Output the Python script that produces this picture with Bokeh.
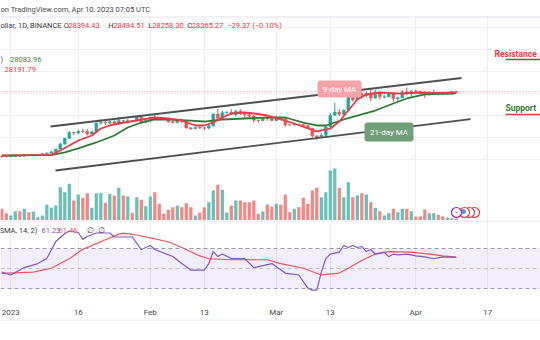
import pandas as pd
from bokeh.plotting import figure
from bokeh.layouts import column
from bokeh.models import (ColumnDataSource, Range1d, FixedTicker, Grid, Span, Label,
                          BoxAnnotation, PolyAnnotation)
from bokeh.embed import file_html
from bokeh.resources import INLINE

FONT = "Roboto"
UP, DOWN = "#26a69a", "#ef5350"
VUP, VDOWN = "#67c1b8", "#f48784"

# ---------------- data ----------------
start_date, end_date = "2022-12-29", "2023-04-10"
opens = [16547, 16633, 16607,
         16542, 16617, 16673, 16669, 16850, 16831, 16951, 16955, 17091, 17196, 17446, 17935, 18869, 19909, 20977,
         20880, 21169, 21161, 20688, 21086, 22670, 22784, 22707, 22920, 22636, 23117, 23032, 23078, 23031, 23774, 22840,
         23125, 23732, 23488, 23431, 23326, 22932, 22762, 23240, 22963, 21796, 21625, 21862, 21783, 21773, 22199, 24324,
         23538, 24566, 24631, 24271, 24836, 24439, 24188, 23947, 23199, 23157, 23554, 23492,
         23141, 23628, 23465, 22354, 22346, 22430, 22410, 22197, 21705, 20362, 20150, 20455, 21997, 24113, 24670, 24285,
         24998, 27395, 26907, 27972, 27717, 28105, 27250, 28295, 27454, 27462, 27968, 27124, 27262, 28348, 28028,
         28465, 28452, 28171, 27800, 28168, 28175, 28033, 27907, 27948, 28394.43]
highs = [16664, 16677, 16644,
         16628, 16799, 16778, 17092, 16879, 17041, 16999, 17176, 17398, 17499, 18000, 19108, 19964, 21258, 21050,
         21439, 21650, 21564, 21190, 22755, 23370, 23078, 23166, 23150, 23816, 23282, 23500, 23165, 23950, 23813, 23320,
         23812, 24255, 23715, 23587, 23433, 23162, 23350, 23453, 23011, 21938, 21906, 22090, 21890, 22319, 24380, 25250,
         24876, 24800, 25192, 25121, 25250, 24477, 24600, 24133, 23219, 23689, 23880, 23600,
         24000, 23780, 23476, 22410, 22662, 22603, 22553, 22267, 21834, 20367, 20850, 22200, 24500, 26386, 25196, 25167,
         27757, 27724, 28390, 28472, 28439, 28868, 28754, 28369, 27787, 28194, 28044, 27500, 28650, 29159, 28658,
         28800, 28530, 28494, 28444, 28775, 28190, 28100, 28179, 28530, 28494.51]
lows = [16488, 16333, 16470,
        16500, 16548, 16606, 16657, 16753, 16679, 16908, 16911, 17091, 17162, 17314, 17910, 18720, 19889, 20551,
        20611, 20922, 20407, 20660, 20861, 22422, 22293, 22500, 22460, 22291, 22850, 22534, 22880, 22974, 22500, 22715,
        22760, 23363, 23206, 23253, 22745, 22628, 22745, 22654, 21688, 21451, 21599, 21630, 21351, 21532, 22047, 23506,
        23339, 24450, 24192, 23841, 24148, 23574, 23608, 22760, 22722, 22950, 23106, 23020,
        23020, 23195, 21971, 22157, 22212, 22260, 21927, 21580, 20042, 19549, 19984, 20280, 21813, 23976, 23896, 24123,
        24890, 26578, 26827, 27124, 27350, 26601, 27105, 27000, 27156, 27371, 26508, 26631, 27226, 27720, 27522,
        28220, 27856, 27200, 27661, 27805, 27711, 27766, 27870, 27820, 28258.30]
closes = [16633, 16607, 16542,
          16617, 16673, 16669, 16850, 16831, 16951, 16955, 17091, 17196, 17446, 17935, 18869, 19909, 20977, 20880,
          21169, 21161, 20688, 21086, 22670, 22784, 22707, 22920, 22636, 23117, 23032, 23078, 23031, 23774, 22840, 23125,
          23732, 23488, 23431, 23326, 22932, 22762, 23240, 22963, 21796, 21625, 21862, 21783, 21773, 22199, 24324, 23538,
          24566, 24631, 24271, 24836, 24439, 24188, 23947, 23199, 23157, 23554, 23492, 23141,
          23628, 23465, 22354, 22346, 22430, 22410, 22197, 21705, 20362, 20150, 20455, 21997, 24113, 24670, 24285, 24998,
          27395, 26907, 27972, 27717, 28105, 27250, 28295, 27454, 27462, 27968, 27124, 27262, 28348, 28028, 28465,
          28452, 28171, 27800, 28168, 28175, 28033, 27907, 27948, 28394.43, 28365.27]
volumes_k = [100, 117, 73,
             50, 93, 93, 117, 83, 90, 33, 50, 157, 127, 150, 333, 283, 367, 200,
             260, 227, 273, 127, 273, 273, 177, 267, 250, 327, 250, 240, 77, 233, 207, 143,
             240, 283, 167, 67, 107, 133, 150, 133, 173, 133, 50, 77, 133, 183, 300, 357,
             307, 80, 150, 200, 200, 183, 183, 200, 67, 90, 160, 140,
             167, 157, 260, 83, 117, 133, 227, 167, 300, 327, 233, 283, 500, 520, 327, 233,
             383, 233, 250, 273, 260, 183, 127, 93, 50, 73, 117, 83, 117, 117, 93,
             40, 40, 110, 73, 73, 57, 40, 30, 23, 20]

ma9_dates = ["2022-12-30", "2023-01-10", "2023-01-12", "2023-01-14", "2023-01-16", "2023-01-19", "2023-01-21",
             "2023-01-23", "2023-01-25", "2023-01-29", "2023-02-02", "2023-02-05", "2023-02-08", "2023-02-11",
             "2023-02-13", "2023-02-15", "2023-02-17", "2023-02-19", "2023-02-22", "2023-02-24", "2023-02-27",
             "2023-03-02", "2023-03-05", "2023-03-08", "2023-03-10", "2023-03-13", "2023-03-15", "2023-03-17",
             "2023-03-19", "2023-03-21", "2023-03-24", "2023-03-29", "2023-04-01", "2023-04-05", "2023-04-10"]
ma9_values = [16750, 16900, 17690, 18600, 19510, 20420, 21690, 22240, 22600, 23150, 23690, 23510, 23150, 22240,
              22240, 22780, 23690, 24420, 24600, 24420, 24055, 23330, 22600, 21690, 21150, 21690, 22960, 24960,
              26960, 27870, 28200, 28050, 28200, 28150, 28191.79]
ma21_dates = ["2022-12-30", "2023-01-10", "2023-01-13", "2023-01-16", "2023-01-20", "2023-01-24", "2023-01-27",
              "2023-01-30", "2023-02-02", "2023-02-05", "2023-02-09", "2023-02-13", "2023-02-17", "2023-02-22",
              "2023-02-27", "2023-03-03", "2023-03-07", "2023-03-10", "2023-03-12", "2023-03-16", "2023-03-20",
              "2023-03-23", "2023-03-27", "2023-03-30", "2023-04-03", "2023-04-06", "2023-04-10"]
ma21_values = [16800, 16850, 17330, 18060, 19150, 20420, 21870, 22780, 23330, 23330, 23150, 22960, 23330, 23510,
               23690, 23690, 22780, 22240, 22240, 23330, 24240, 24960, 26240, 27150, 27900, 28000, 28083.96]

rsi_dates = ["2022-12-30", "2023-01-01", "2023-01-04", "2023-01-07", "2023-01-09", "2023-01-11", "2023-01-13",
             "2023-01-14", "2023-01-16", "2023-01-17", "2023-01-18", "2023-01-20", "2023-01-23", "2023-01-24",
             "2023-01-27", "2023-01-28", "2023-01-30", "2023-02-01", "2023-02-02", "2023-02-06", "2023-02-08",
             "2023-02-10", "2023-02-13", "2023-02-14", "2023-02-15", "2023-02-16", "2023-02-17", "2023-02-19",
             "2023-02-22", "2023-02-24", "2023-02-26", "2023-02-28", "2023-03-03", "2023-03-06", "2023-03-08",
             "2023-03-09", "2023-03-10", "2023-03-11", "2023-03-12", "2023-03-13", "2023-03-15", "2023-03-16",
             "2023-03-17", "2023-03-18", "2023-03-19", "2023-03-20", "2023-03-21", "2023-03-22", "2023-03-23",
             "2023-03-25", "2023-03-26", "2023-03-27", "2023-03-28", "2023-03-30", "2023-04-01", "2023-04-03",
             "2023-04-05", "2023-04-07", "2023-04-10"]
rsi_values = [46.5, 43.6, 51, 55, 60, 77, 85, 87.5, 86, 79, 82, 85.5, 85.5, 81.5, 81.5, 81.5, 69, 73, 69, 62,
              55, 48.5, 48.5, 55, 67, 62, 64.5, 60, 60, 51, 53, 55, 45.5, 43.6, 30.5, 28.5, 28.5, 46.5, 60, 64.5,
              66.5, 73, 71, 73, 71, 72, 67, 69, 64.5, 66.5, 61.7, 64.5, 63.6, 64.5, 62.6, 61.7, 59.8, 61.7, 61.23]
rsima_dates = ["2022-12-30", "2023-01-06", "2023-01-10", "2023-01-14", "2023-01-17", "2023-01-21", "2023-01-25",
               "2023-01-26", "2023-01-29", "2023-02-01", "2023-02-05", "2023-02-08", "2023-02-12", "2023-02-14",
               "2023-02-19", "2023-02-24", "2023-02-27", "2023-03-02", "2023-03-07", "2023-03-11", "2023-03-15",
               "2023-03-17", "2023-03-20", "2023-03-23", "2023-03-26", "2023-03-31", "2023-04-04", "2023-04-07",
               "2023-04-10"]
rsima_values = [45.1, 46.5, 50.3, 59.8, 69.2, 76.8, 84.4, 85.4, 83.5, 80.6, 76.8, 71.1, 62.6, 59.8, 58.8, 58.8,
                58.8, 55.0, 50.3, 43.6, 45.5, 50.3, 58.0, 64.5, 66.9, 66.4, 64.5, 62.6, 61.46]

tick_dates = ["2023-01-01", "2023-01-16", "2023-02-01", "2023-02-13", "2023-03-01", "2023-03-13", "2023-04-01",
              "2023-04-17"]
tick_labels = ["2023", "16", "Feb", "13", "Mar", "13", "Apr", "17"]
price_grid = [16000, 20000, 24000, 28000, 32000, 36000, 40000]

channel_upper_dates = ["2023-01-09 19:40", "2023-04-11 04:00"]
channel_upper_prices = [22055, 30873]
channel_lower_dates = ["2023-01-10 22:20", "2023-04-13 04:00"]
channel_lower_prices = [14055, 23382]
last_price = 28365.27

# ---------------- helpers ----------------
ORIGIN = pd.Timestamp("2023-01-01")


def dnum(ds):
    return [(pd.Timestamp(d) - ORIGIN) / pd.Timedelta(days=1) for d in ds]


dates = pd.date_range(start_date, end_date, freq="D")
xs = dnum(dates)
inc = [c >= o for o, c in zip(opens, closes)]
src = ColumnDataSource(dict(
    x=xs, open=opens, high=highs, low=lows, close=closes,
    top=[max(o, c) for o, c in zip(opens, closes)],
    bottom=[min(o, c) for o, c in zip(opens, closes)],
    color=[UP if i else DOWN for i in inc],
    vcolor=[VUP if i else VDOWN for i in inc],
    vol=volumes_k,
))

tick_x = [int(round(v)) for v in dnum(tick_dates)]
overrides = {}
for t, l in zip(tick_x, tick_labels):
    overrides[t] = l
    overrides[str(t)] = l

xr = Range1d(-2.289, 117.71)
GRID = "#eef0f4"
SEP = "#e0e3eb"


def lab(p, x, y, text, color="#3c3c3c", size="7.5px", **kw):
    p.add_layout(Label(x=x, y=y, text=text, x_range_name="px", y_range_name="py", text_color=color,
                       text_font=FONT, text_font_size=size, text_baseline="middle", **kw))


# ---------------- main price pane (includes header strip) ----------------
main = figure(width=540, height=220, x_range=xr, y_range=Range1d(4963.6, 44963.6), title=None,
              x_axis_location=None, y_axis_location=None, toolbar_location=None,
              output_backend="svg", min_border=0, outline_line_color=None)
main.grid.visible = False
main.extra_y_ranges = {"vol": Range1d(0, 2200), "py": Range1d(220, 0)}
main.extra_x_ranges = {"px": Range1d(0, 540)}
main.add_layout(Grid(dimension=0, ticker=FixedTicker(ticks=tick_x), grid_line_color=GRID))
main.add_layout(Grid(dimension=1, ticker=FixedTicker(ticks=price_grid), grid_line_color=GRID))

main.vbar(x="x", width=0.72, top="vol", bottom=0, fill_color="vcolor", line_color=None,
          y_range_name="vol", source=src)
main.segment(x0="x", y0="low", x1="x", y1="high", line_color="color", line_width=1, source=src)
main.vbar(x="x", width=0.62, top="top", bottom="bottom", fill_color="color", line_color="color",
          line_width=0.6, source=src)

main.line(dnum(ma21_dates), ma21_values, line_color="#2e7d32", line_width=1.8)
main.line(dnum(ma9_dates), ma9_values, line_color="#f23645", line_width=1.8)
main.line(dnum(channel_upper_dates), channel_upper_prices, line_color="#4f4f4f", line_width=1.8)
main.line(dnum(channel_lower_dates), channel_lower_prices, line_color="#4f4f4f", line_width=1.8)
main.add_layout(Span(location=last_price, dimension="width", line_color="#f23645", line_alpha=0.6,
                     line_dash="1 2", line_width=1))

# header strip (white, above the chart area) and its separator
main.add_layout(BoxAnnotation(left=-5, right=545, top=-2, bottom=16, x_range_name="px", y_range_name="py",
                              fill_color="white", fill_alpha=1, line_color=None))
main.add_layout(Span(location=16.5, dimension="width", y_range_name="py", line_color=SEP, line_width=1))
lab(main, 0, 8.5, "on TradingView.com, Apr 10, 2023 07:05 UTC", color="#4a4a4a")

# legend rows
lab(main, 0, 25, "ollar, 1D, BINANCE")
row2 = [(63.3, "O", "#3c3c3c"), (67.7, "28394.43", "#f23645"), (107.7, "H", "#3c3c3c"),
        (112.7, "28494.51", "#f23645"), (147.7, "L", "#3c3c3c"), (151.7, "28258.30", "#f23645"),
        (186.7, "C", "#3c3c3c"), (191.3, "28365.27", "#f23645"), (226.7, "\u221229.37 (\u22120.10%)", "#f23645")]
for x, t, c in row2:
    lab(main, x, 25, t, color=c)
lab(main, 0, 59, ")")
lab(main, 9.5, 59, "28083.96", color="#388e3c")
lab(main, 4, 69, "28191.79", color="#f23645")

# MA call-outs
main.add_layout(PolyAnnotation(xs=[333, 344, 352], ys=[96, 96, 108], x_range_name="px", y_range_name="py",
                               fill_color="#f7a3aa", fill_alpha=1, line_color=None))
main.add_layout(BoxAnnotation(left=317, right=361, top=80, bottom=97, x_range_name="px", y_range_name="py",
                              fill_color="#f7a3aa", fill_alpha=1, line_color=None, border_radius=3))
lab(main, 339, 88.8, "9-day MA", color="white", size="8px", text_align="center")
main.add_layout(PolyAnnotation(xs=[372, 379, 391], ys=[110, 123, 123], x_range_name="px", y_range_name="py",
                               fill_color="#729e78", fill_alpha=1, line_color=None))
main.add_layout(BoxAnnotation(left=364, right=413, top=122, bottom=141, x_range_name="px", y_range_name="py",
                              fill_color="#729e78", fill_alpha=1, line_color=None, border_radius=3))
lab(main, 388.5, 131.8, "21-day MA", color="white", size="8px", text_align="center")

# support / resistance notes
lab(main, 494, 53.5, "Resistance", color="#f23645", size="8.5px", text_font_style="bold")
main.add_layout(BoxAnnotation(left=505, right=541, top=58.3, bottom=59.8, x_range_name="px", y_range_name="py",
                              fill_color="#2e7d32", fill_alpha=1, line_color=None))
lab(main, 505, 107, "Support", color="#2e7d32", size="8.5px", text_font_style="bold")
main.add_layout(BoxAnnotation(left=505, right=541, top=113.3, bottom=114.8, x_range_name="px", y_range_name="py",
                              fill_color="#f23645", fill_alpha=1, line_color=None))

# event icons
main.scatter(x=[474, 469, 464], y=[212, 212, 212], size=10, marker="circle", fill_color="white",
             line_color="#f23645", line_width=1.2, x_range_name="px", y_range_name="py")
main.scatter(x=[463], y=[211], size=5, marker="circle", fill_color="#5b9bd5", line_color=None,
             x_range_name="px", y_range_name="py")
main.scatter(x=[456], y=[212], size=10, marker="circle", fill_color="white",
             line_color="#9c27b0", line_width=1.2, x_range_name="px", y_range_name="py")
lab(main, 456, 212.5, "\u03df", color="#9c27b0", size="7px", text_align="center")

# ---------------- RSI pane ----------------
rsi = figure(width=540, height=99, x_range=xr, y_range=Range1d(22.1, 98.0), title=None,
             x_axis_location="below", y_axis_location=None, toolbar_location=None,
             output_backend="svg", min_border=0, min_border_bottom=19, outline_line_color=None)
rsi.grid.visible = False
rsi.extra_x_ranges = {"px": Range1d(0, 540)}
rsi.extra_y_ranges = {"py": Range1d(300, 220)}
rsi.add_layout(Grid(dimension=0, ticker=FixedTicker(ticks=tick_x), grid_line_color=GRID))
rsi.add_layout(BoxAnnotation(bottom=30, top=70, fill_color="#7e57c2", fill_alpha=0.1, line_color=None,
                             level="underlay"))
rsi.add_layout(Span(location=70, dimension="width", line_color="#9598a1", line_dash="4 3", line_width=1))
rsi.add_layout(Span(location=50, dimension="width", line_color="#9598a1", line_alpha=0.5, line_dash="4 3",
                    line_width=1))
rsi.add_layout(Span(location=30, dimension="width", line_color="#9598a1", line_dash="4 3", line_width=1))
rsi.add_layout(Span(location=220.5, dimension="width", y_range_name="py", line_color=SEP, line_width=1))
rsi.line(dnum(rsima_dates), rsima_values, line_color="#f7525f", line_width=1.2)
rsi.line(dnum(rsi_dates), rsi_values, line_color="#7e57c2", line_width=1.2)

lab(rsi, -1, 231, "SMA, 14, 2)")
lab(rsi, 41, 231, "61.23", color="#7e57c2")
lab(rsi, 58, 231, "61.46", color="#f7525f")
lab(rsi, 86, 231, "\u2205", color="#3c3c3c")
lab(rsi, 97, 231, "\u2205", color="#3c3c3c")

ax = rsi.xaxis[0]
ax.ticker = FixedTicker(ticks=tick_x)
ax.major_label_overrides = overrides
ax.axis_line_color = None
ax.major_tick_line_color = None
ax.minor_tick_line_color = None
ax.major_label_standoff = 5
ax.major_label_text_font = FONT
ax.major_label_text_font_size = "8px"
ax.major_label_text_color = "#4a4a4a"

# ---------------- footer ----------------
footer = figure(width=540, height=21, x_range=Range1d(0, 540), y_range=Range1d(21, 0), title=None,
                x_axis_location=None, y_axis_location=None, toolbar_location=None,
                output_backend="svg", min_border=0, outline_line_color=None)
footer.grid.visible = False
footer.add_layout(Span(location=0.5, dimension="width", line_color=SEP, line_width=1))

layout = column(main, rsi, footer, spacing=0)
open("out.html", "w").write(file_html(layout, INLINE))
